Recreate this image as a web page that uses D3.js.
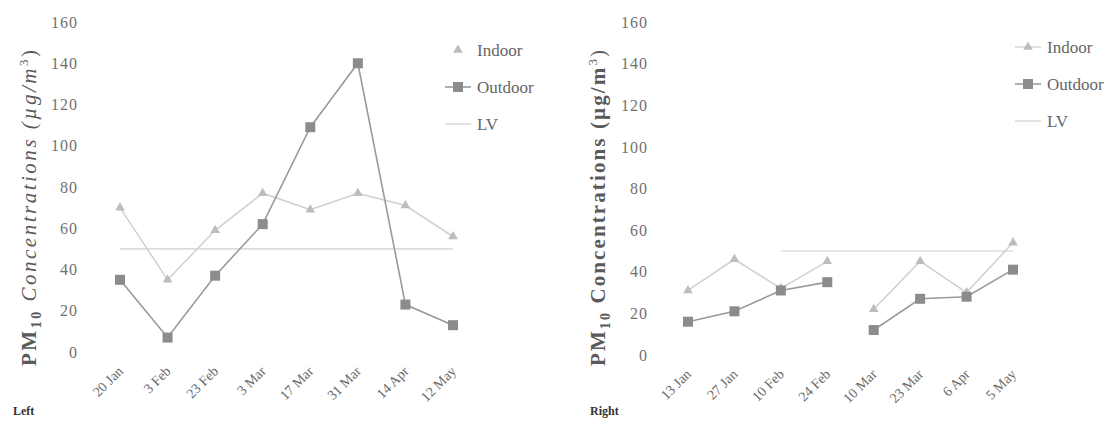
<!DOCTYPE html>
<meta charset="utf-8">
<head>
<script src="https://d3js.org/d3.v7.min.js"></script>
<style>
  body { margin: 0; background: #fff; }
  svg text { font-family: "Liberation Serif", "DejaVu Serif", serif !important; }
  .tick text { fill: #707070; font-size: 16px; letter-spacing: 1px; }
  .xlab { fill: #6a6a6a; font-size: 14px; }
  .legend text { fill: #666; font-size: 17px; }
  .ytitle { fill: #5a5a5a; font-size: 21px; }
  .corner { fill: #333; font-size: 12px; font-weight: bold; }
</style>
</head>
<body>
<div id="chart"></div>
<script>
  // values
  var yTicks = [0, 20, 40, 60, 80, 100, 120, 140, 160];

  var leftDates   = ["20 Jan", "3 Feb", "23 Feb", "3 Mar", "17 Mar", "31 Mar", "14 Apr", "12 May"];
  var leftIndoor  = [70, 35, 59, 77, 69, 77, 71, 56];
  var leftOutdoor = [35, 7, 37, 62, 109, 140, 23, 13];
  var leftLV      = [50, 50, 50, 50, 50, 50, 50, 50];
  var leftBreaks  = [];

  var rightDates   = ["13 Jan", "27 Jan", "10 Feb", "24 Feb", "10 Mar", "23 Mar", "6 Apr", "5 May"];
  var rightIndoor  = [31, 46, 32, 45, 22, 45, 30, 54];
  var rightOutdoor = [16, 21, 31, 35, 12, 27, 28, 41];
  var rightLV      = [null, null, 50, 50, 50, 50, 50, 50];
  var rightBreaks  = [3];   // no line drawn after this index

  var svg = d3.select("#chart").append("svg")
      .attr("width", 1116).attr("height", 438);

  var triangle = d3.symbol().type(d3.symbolTriangle).size(40);

  function drawPanel(p) {
    var x = d3.scalePoint().domain(p.dates).range([p.x0, p.x1]);
    var y = d3.scaleLinear().domain([0, 160]).range([p.y0, p.y1]);
    var g = svg.append("g");

    // y axis, labels only
    var ax = g.append("g")
        .attr("transform", "translate(" + p.axisX + ",0)")
        .call(d3.axisLeft(y).tickValues(yTicks).tickSize(0).tickPadding(0));
    ax.attr("font-size", null);
    ax.select(".domain").remove();
    ax.selectAll(".tick text").attr("dy", "0.32em");

    // rotated category labels
    g.selectAll("text.xlab").data(p.dates).enter()
        .append("text")
        .attr("class", "xlab")
        .attr("text-anchor", "end")
        .attr("transform", function (d) {
          return "translate(" + (x(d) + 4) + "," + (p.y0 + 20) + ") rotate(-45)";
        })
        .text(function (d) { return d; });

    // y title
    var t = g.append("text")
        .attr("class", "ytitle")
        .attr("text-anchor", "middle")
        .attr("transform", "translate(" + p.titleX + ",208) rotate(-90)")
        .attr("textLength", 316).attr("lengthAdjust", "spacing");
    t.append("tspan").attr("font-weight", "bold").text("PM");
    t.append("tspan").attr("font-weight", "bold").attr("font-size", "14px").attr("dy", 5).text("10");
    t.append("tspan").attr("dy", -5).attr("font-style", p.italic ? "italic" : null)
        .attr("font-weight", p.italic ? null : "bold").text(" Concentrations (µg/m");
    t.append("tspan").attr("font-size", "13px").attr("dy", -8).text("3");
    t.append("tspan").attr("dy", 8).text(")");

    var line = d3.line()
        .defined(function (d) { return d.v != null; })
        .x(function (d) { return x(d.k); })
        .y(function (d) { return y(d.v); });

    function runs(values) {
      var out = [], cur = [];
      values.forEach(function (v, i) {
        cur.push({ k: p.dates[i], v: v });
        if (p.breaks.indexOf(i) >= 0) { out.push(cur); cur = []; }
      });
      out.push(cur);
      return out;
    }

    // LV limit line
    g.append("path")
        .attr("d", line(p.lv.map(function (v, i) { return { k: p.dates[i], v: v }; })))
        .attr("fill", "none").attr("stroke", "#dcdcdc").attr("stroke-width", 1.6);

    runs(p.indoor).forEach(function (r) {
      g.append("path").attr("d", line(r))
          .attr("fill", "none").attr("stroke", "#d0d0d0").attr("stroke-width", 1.5);
    });
    runs(p.outdoor).forEach(function (r) {
      g.append("path").attr("d", line(r))
          .attr("fill", "none").attr("stroke", "#9a9a9a").attr("stroke-width", 1.6);
    });

    g.selectAll("path.tri").data(p.indoor).enter()
        .append("path").attr("class", "tri")
        .attr("d", triangle)
        .attr("transform", function (d, i) { return "translate(" + x(p.dates[i]) + "," + y(d) + ")"; })
        .attr("fill", "#bdbdbd");

    g.selectAll("rect.sq").data(p.outdoor).enter()
        .append("rect").attr("class", "sq")
        .attr("x", function (d, i) { return x(p.dates[i]) - 5; })
        .attr("y", function (d) { return y(d) - 5; })
        .attr("width", 10).attr("height", 10)
        .attr("fill", "#8c8c8c");

    // legend
    var lg = g.append("g").attr("class", "legend")
        .attr("transform", "translate(" + p.legX + "," + p.legY + ")");
    ["Indoor", "Outdoor", "LV"].forEach(function (name, i) {
      var yy = i * 37;
      var stroke = ["#dadada", "#9a9a9a", "#dcdcdc"][i];
      if (i > 0 || p.indoorLegendLine) {
        lg.append("line").attr("x1", -13).attr("x2", 13).attr("y1", yy).attr("y2", yy)
            .attr("stroke", stroke).attr("stroke-width", 1.6);
      }
      if (i == 0) lg.append("path").attr("d", triangle).attr("transform", "translate(0," + yy + ")").attr("fill", "#bdbdbd");
      if (i == 1) lg.append("rect").attr("x", -5).attr("y", yy - 5).attr("width", 10).attr("height", 10).attr("fill", "#8c8c8c");
      lg.append("text").attr("x", 19).attr("y", yy).attr("dy", "0.33em").text(name);
    });

    g.append("text").attr("class", "corner").attr("x", p.cornerX).attr("y", 415).text(p.corner);
  }

  drawPanel({
    dates: leftDates, indoor: leftIndoor, outdoor: leftOutdoor, lv: leftLV, breaks: leftBreaks,
    x0: 120, x1: 453, y0: 352, y1: 22, axisX: 78, titleX: 36, italic: true,
    legX: 458, legY: 50, indoorLegendLine: false, corner: "Left", cornerX: 13
  });
  drawPanel({
    dates: rightDates, indoor: rightIndoor, outdoor: rightOutdoor, lv: rightLV, breaks: rightBreaks,
    x0: 688, x1: 1013, y0: 355, y1: 22, axisX: 648, titleX: 605, italic: false,
    legX: 1028, legY: 47, indoorLegendLine: true, corner: "Right", cornerX: 590
  });
</script>
</body>
